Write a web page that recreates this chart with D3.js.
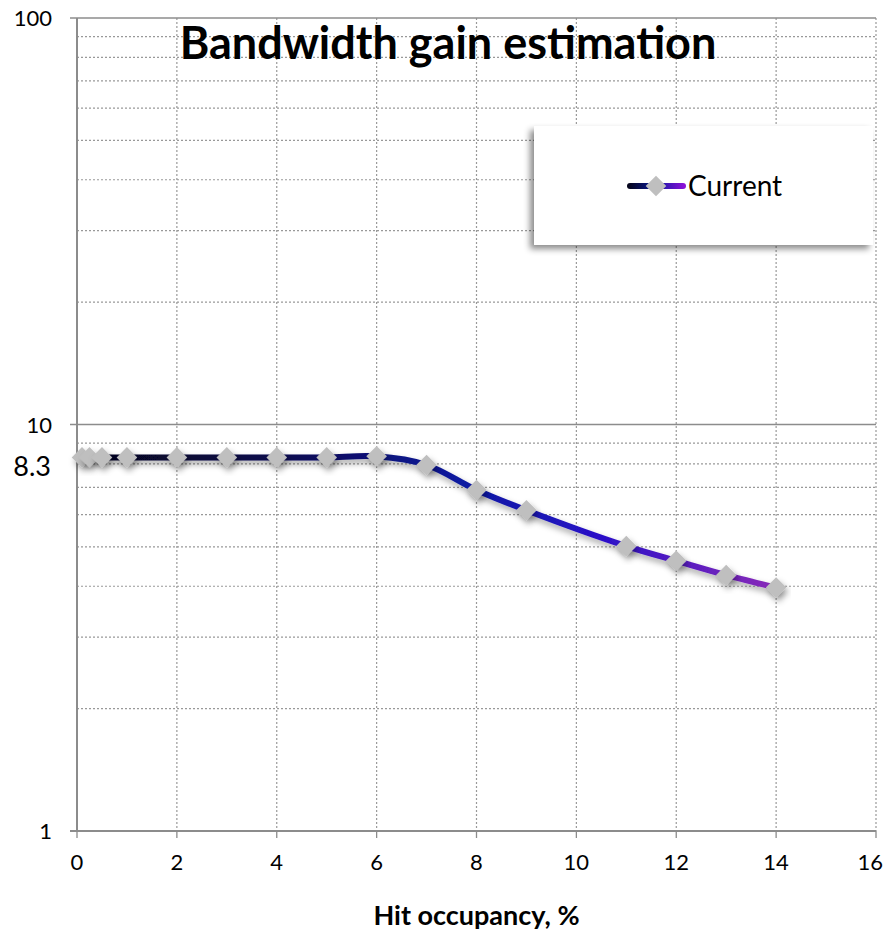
<!DOCTYPE html>
<html><head><meta charset="utf-8">
<script src="https://cdn.jsdelivr.net/npm/d3@7"></script>
<style>body{margin:0;background:#fff}svg{display:block}</style>
</head><body>
<script>
const xValues = [0.1, 0.25, 0.5, 1, 2, 3, 4, 5, 6, 7, 8, 9, 11, 12, 13, 14];
const yValues = [8.3, 8.3, 8.3, 8.3, 8.3, 8.3, 8.3, 8.3, 8.35, 7.95, 6.9, 6.15, 5.02, 4.62, 4.26, 3.97];
const xTicks = [0, 2, 4, 6, 8, 10, 12, 14, 16];
const yMajor = [1, 10, 100];
const yMinor = [2,3,4,5,6,7,8,9,20,30,40,50,60,70,80,90];
const markLabel = 8.3;
const title = "Bandwidth gain estimation";
const xTitle = "Hit occupancy, %";
const seriesName = "Current";

const W = 884, H = 945;
const m = {l: 77, r: 876, t: 18, b: 831};
const svg = d3.select("body").append("svg").attr("width", W).attr("height", H);
const x = d3.scaleLinear().domain([0, 16]).range([m.l, m.r]);
const y = d3.scaleLog().domain([1, 100]).range([m.b, m.t]);

const defs = svg.append("defs");
const f = defs.append("filter").attr("id","sh").attr("x","-20%").attr("y","-20%").attr("width","140%").attr("height","160%");
f.append("feDropShadow").attr("dx",2).attr("dy",4).attr("stdDeviation",3).attr("flood-color","#000").attr("flood-opacity",0.35);
const f2 = defs.append("filter").attr("id","lsh").attr("x","-10%").attr("y","-10%").attr("width","120%").attr("height","130%");
f2.append("feDropShadow").attr("dx",-4).attr("dy",4).attr("stdDeviation",3).attr("flood-color","#000").attr("flood-opacity",0.45);
const grad = defs.append("linearGradient").attr("id","lg").attr("gradientUnits","userSpaceOnUse")
  .attr("x1", x(0)).attr("x2", x(14)).attr("y1",0).attr("y2",0);
grad.append("stop").attr("offset","0%").attr("stop-color","#05051a");
grad.append("stop").attr("offset","30%").attr("stop-color","#0a0a50");
grad.append("stop").attr("offset","55%").attr("stop-color","#0a1aa0");
grad.append("stop").attr("offset","75%").attr("stop-color","#2a10c8");
grad.append("stop").attr("offset","100%").attr("stop-color","#8a2ab8");
const lgGrad = defs.append("linearGradient").attr("id","lg2").attr("gradientUnits","userSpaceOnUse")
  .attr("x1",628).attr("x2",684).attr("y1",0).attr("y2",0);
lgGrad.append("stop").attr("offset","0%").attr("stop-color","#05051a");
lgGrad.append("stop").attr("offset","50%").attr("stop-color","#0a1aa0");
lgGrad.append("stop").attr("offset","100%").attr("stop-color","#8a10d8");

// grid
const g = svg.append("g");
g.selectAll(".hm").data(yMinor).join("line")
  .attr("x1", m.l).attr("x2", m.r).attr("y1", d=>y(d)).attr("y2", d=>y(d))
  .attr("stroke","#999").attr("stroke-width",1.2).attr("stroke-dasharray","2,2");
g.selectAll(".vx").data(xTicks.slice(1)).join("line")
  .attr("x1", d=>x(d)).attr("x2", d=>x(d)).attr("y1", m.t).attr("y2", m.b)
  .attr("stroke","#999").attr("stroke-width",1.2).attr("stroke-dasharray","2,2");
g.selectAll(".hM").data(yMajor.slice(1)).join("line")
  .attr("x1", m.l-7).attr("x2", m.r).attr("y1", d=>y(d)).attr("y2", d=>y(d))
  .attr("stroke","#8c8c8c").attr("stroke-width",1.3);

// axes
svg.append("line").attr("x1", m.l).attr("x2", m.l).attr("y1", m.t).attr("y2", m.b).attr("stroke","#8c8c8c").attr("stroke-width",2);
svg.append("line").attr("x1", m.l-7).attr("x2", m.r).attr("y1", y(1)).attr("y2", y(1)).attr("stroke","#8c8c8c").attr("stroke-width",2);
svg.selectAll(".xt").data(xTicks).join("line")
  .attr("x1", d=>x(d)).attr("x2", d=>x(d)).attr("y1", m.b).attr("y2", m.b+7).attr("stroke","#8c8c8c").attr("stroke-width",1.3);
svg.selectAll(".xl").data(xTicks).join("text")
  .attr("x", (d,i)=> i === xTicks.length-1 ? x(d)+7 : x(d)).attr("y", m.b+39)
  .attr("text-anchor", (d,i)=> i === xTicks.length-1 ? "end" : "middle")
  .attr("font-family","Lato, sans-serif").attr("font-size",22).attr("fill","#000").text(d=>d);
svg.selectAll(".yl").data(yMajor).join("text")
  .attr("x", 52).attr("y", d=>y(d)+8).attr("text-anchor","end")
  .attr("font-family","Lato, sans-serif").attr("font-size",22).attr("fill","#000").text(d=>d);
svg.append("text").attr("x", 51).attr("y", y(markLabel)+19).attr("text-anchor","end")
  .attr("font-family","Lato, sans-serif").attr("font-size",27).attr("fill","#000").text(markLabel);

// line
const data = xValues.map((d,i)=>({x:d, y:yValues[i]}));
const line = d3.line().x(d=>x(d.x)).y(d=>y(d.y)).curve(d3.curveCatmullRom.alpha(0.5));
svg.append("path").datum(data).attr("d", line).attr("fill","none")
  .attr("stroke","url(#lg)").attr("stroke-width",6).attr("stroke-linecap","round").attr("filter","url(#sh)");
const diamond = d3.symbol().type(d3.symbolDiamond2).size(270);
svg.selectAll(".pt").data(data).join("path")
  .attr("d", diamond).attr("transform", d=>`translate(${x(d.x)},${y(d.y)})`)
  .attr("fill","#bfbfbf").attr("filter","url(#sh)");

// title
svg.append("text").attr("x", 448).attr("y", 59).attr("text-anchor","middle")
  .attr("font-family","Lato, sans-serif").attr("font-weight","bold").attr("font-size",45).attr("fill","#000").text(title);
svg.append("text").attr("x", (m.l+m.r)/2).attr("y", 925).attr("text-anchor","middle")
  .attr("font-family","Lato, sans-serif").attr("font-weight","bold").attr("font-size",27).attr("fill","#000").text(xTitle);

// legend
const lg = svg.append("g");
lg.append("rect").attr("x",534).attr("y",126).attr("width",339).attr("height",119).attr("fill","#fff").attr("filter","url(#lsh)");
lg.append("line").attr("x1",630).attr("x2",683).attr("y1",186).attr("y2",186).attr("stroke","url(#lg2)").attr("stroke-width",6).attr("stroke-linecap","round");
lg.append("path").attr("d", diamond).attr("transform","translate(656,186)").attr("fill","#bfbfbf");
lg.append("text").attr("x",688).attr("y",196).attr("font-family","Lato, sans-serif").attr("font-size",28).attr("fill","#000").text(seriesName);
</script>
</body></html>
